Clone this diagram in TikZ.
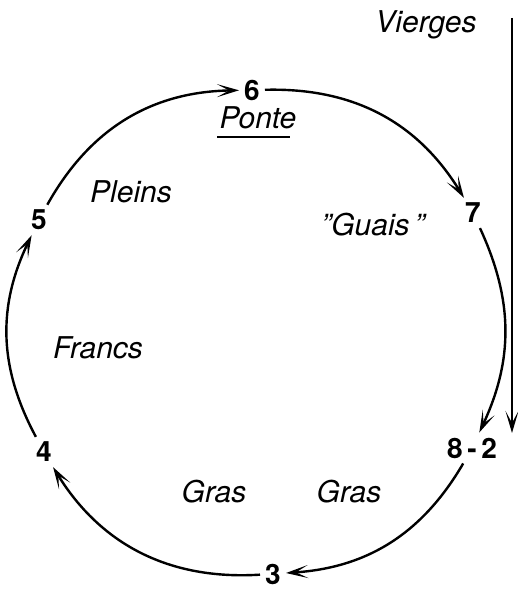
\documentclass[tikz,border=0pt]{standalone}
\usepackage{fontspec}
\setmainfont{TeX Gyre Heros}
\usetikzlibrary{arrows.meta}

\tikzset{
  num/.style={font=\fontsize{28}{32}\selectfont\bfseries, inner sep=5pt},
  lab/.style={font=\fontsize{30}{34}\selectfont\itshape, inner sep=0pt},
  flow/.style={line width=2.4pt, -{Stealth[length=22pt, width=13pt, inset=12pt]}}
}

\begin{document}
\begin{tikzpicture}[x=1pt, y=1pt]
    \useasboundingbox (0,0) rectangle (518,589);

    % Etapes

    \node[num] (six) at (252, 499) {6};
    \node[num] (seven) at (473, 376) {7};
    \node[num] (eighttwo) at (472, 141) {8\,-\,2};
    \node[num] (three) at (273, 15) {3};
    \node[num] (four) at (44, 137) {4};
    \node[num] (five) at (39, 369) {5};

    % Textes

    \node[lab] (vierges) at (426, 564) {Vierges};
    \node[lab] (ponte) at (258, 471) {Ponte};
    \node[lab] (pleins) at (131, 397) {Pleins};
    \node[lab] (guais) at (373, 364) {\symbol{34}Guais\,\symbol{34}};
    \node[lab] (francs) at (98, 241) {Francs};
    \node[lab] (grasA) at (214, 97) {Gras};
    \node[lab] (grasB) at (349, 97) {Gras};
    \draw[line width=1.6pt] ([yshift=-8pt, xshift=-2pt]ponte.base west) -- ([yshift=-8pt, xshift=-7pt]ponte.base east);

    % Cycle

    \draw[flow] (five) to[bend left=30] (six);
    \draw[flow] (six) to[bend left=30] (seven);
    \draw[flow] (seven) to[bend left=25] (eighttwo);
    \draw[flow] (eighttwo) to[bend left=28] (three);
    \draw[flow] (three) to[bend left=31] (four);
    \draw[flow] (four) to[bend left=27] (five);

    % Vierges

    \coordinate (vtop) at (512, 571);
    \coordinate (vbot) at (512, 156);
    \draw[flow, line width=1.8pt] (vtop) -- (vbot);

\end{tikzpicture}
\end{document}
